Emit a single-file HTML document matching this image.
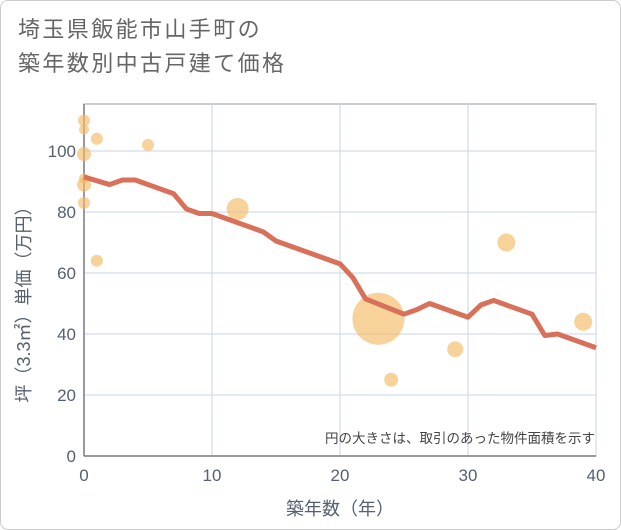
<!DOCTYPE html>
<html><head><meta charset="utf-8"><style>
body{margin:0;background:#fff}
#wrap{position:relative;width:619px;height:528px;border:1px solid #ccc;border-radius:8px;overflow:hidden;background:#fff}
#title{position:absolute;left:17px;top:12px;font:22px/34px "Liberation Sans","Noto Sans CJK JP",sans-serif;color:#666;letter-spacing:2.4px}
svg text{font-family:"Liberation Sans","Noto Sans CJK JP",sans-serif}
</style></head><body>
<div id="wrap">
<div id="title">埼玉県飯能市山手町の<br>築年数別中古戸建て価格</div>
<svg id="chart" width="621" height="530" style="position:absolute;left:-1px;top:-1px"></svg>
</div>
<script>
const lineYears=[0,2,3,4,7,8,9,10,14,15,20,21,22,25,26,27,30,31,32,35,36,37,40];
const lineValues=[91.5,89,90.5,90.5,86,81,79.5,79.5,73.5,70.5,63,58.5,51.5,46.5,48,50,45.5,49.5,51,46.5,39.5,40,35.5];
const dotYears=[0,0,0,0,0,0,1,1,5,12,23,24,29,33,39];
const dotValues=[110,107,99,91,89,83,104,64,102,81,45,25,35,70,44];
const dotSizes=[6,5,7,5,7,6,6,6,6,11,26,7,8,9,9];
const xTicks=[0,10,20,30,40];
const yTicks=[0,20,40,60,80,100];
const NS='http://www.w3.org/2000/svg';
const svg=document.getElementById('chart');
const X0=84,X1=596,Y0=456,Yt=104;
const xs=v=>X0+(v/40)*(X1-X0);
const ys=v=>Y0-v*3.05;
function mk(t,a){const e=document.createElementNS(NS,t);for(const k in a)e.setAttribute(k,a[k]);svg.appendChild(e);return e;}
let r=mk('rect',{x:X0,y:Yt,width:X1-X0,height:Y0-Yt,fill:'none',stroke:'#99a',"stroke-width":1});


xTicks.forEach(t=>{
 const l=mk('line',{x1:xs(t),x2:xs(t),y1:Yt,y2:Y0,stroke:'#c8d6e8'});
 
 
 const tx=mk('text',{x:xs(t),y:Y0+25,"text-anchor":"middle","font-size":17,fill:'#556070'});tx.textContent=t;
 
 
});
yTicks.forEach(t=>{
 const l=mk('line',{x1:X0,x2:X1,y1:ys(t),y2:ys(t),stroke:'#c8d6e8'});
 
 
 const tx=mk('text',{x:X0-8,y:ys(t)+6,"text-anchor":"end","font-size":17,fill:'#556070'});tx.textContent=t;
 
 
});
const ax=mk('line',{x1:X0,x2:X0,y1:Yt,y2:Y0,stroke:'#778',"stroke-width":1.5});


const bx=mk('line',{x1:X0,x2:X1,y1:Y0,y2:Y0,stroke:'#778',"stroke-width":1.5});


dotYears.forEach((y,i)=>{
 const c=mk('circle',{cx:xs(y),cy:ys(dotValues[i]),r:dotSizes[i],fill:'rgba(242,186,100,0.65)'});
 
 
});
const p=mk('polyline',{points:lineYears.map((y,i)=>xs(y)+','+ys(lineValues[i])).join(' '),fill:'none',stroke:'#d9705a',"stroke-width":5,"stroke-linejoin":"round"});


const n=mk('text',{x:595,y:443,"text-anchor":"end","font-size":13.5,fill:'#444'});n.textContent='円の大きさは、取引のあった物件面積を示す';


const xt=mk('text',{x:340,y:515,"text-anchor":"middle","font-size":18,fill:'#556070'});xt.textContent='築年数（年）';


const yt=mk('text',{x:0,y:0,"text-anchor":"middle","font-size":18,fill:'#556070',transform:'translate(30,300) rotate(-90)'});yt.textContent='坪（3.3㎡）単価（万円）';


</script>
</body></html>
